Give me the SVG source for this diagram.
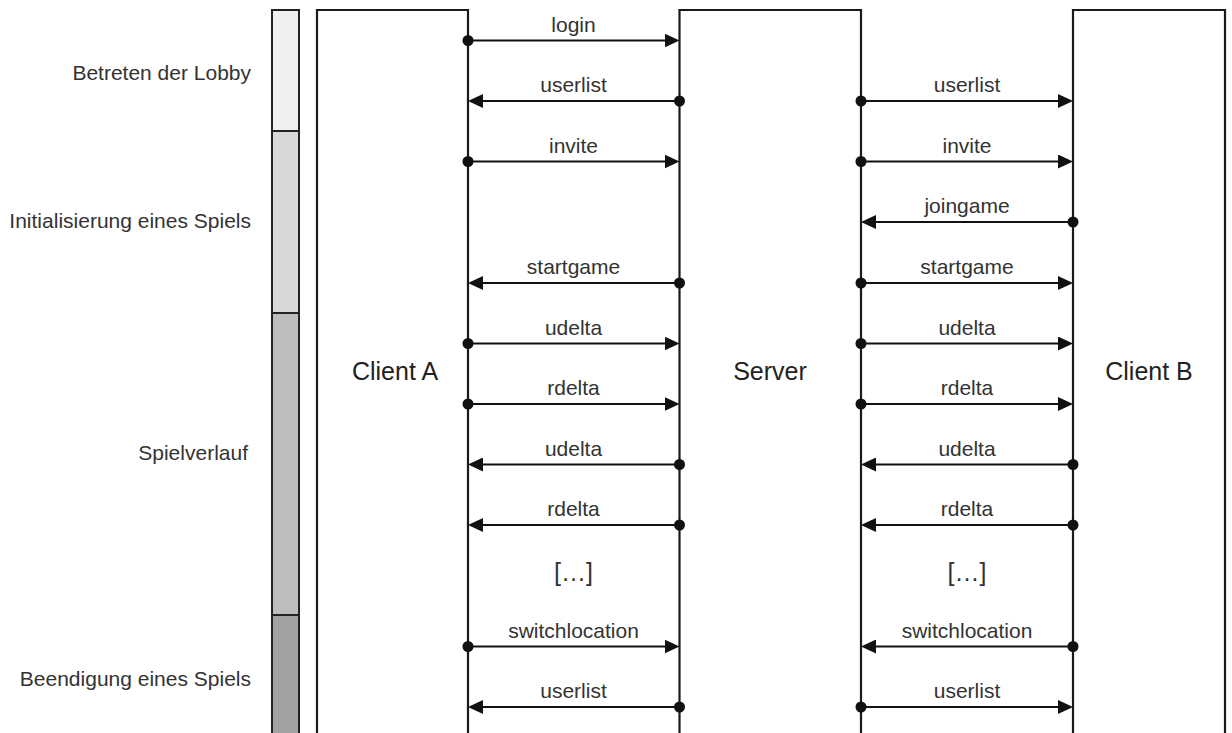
<svg xmlns="http://www.w3.org/2000/svg" width="1232" height="733" viewBox="0 0 1232 733">
<style>
  .phase { stroke: #222; stroke-width: 2; }
  .plabel { font-family: "Liberation Sans", Arial, sans-serif; font-size: 21px; fill: #333; text-anchor: end; }
  .box { fill: none; stroke: #1a1a1a; stroke-width: 2.2; }
  .name { font-family: "Liberation Sans", Arial, sans-serif; font-size: 25px; fill: #222; text-anchor: middle; }
  .msg { stroke: #111; stroke-width: 2.2; fill: none; marker-start: url(#dot); marker-end: url(#head); }
  .mlabel { font-family: "Liberation Sans", Arial, sans-serif; font-size: 21px; fill: #333; text-anchor: middle; }
  .dots { font-family: "Liberation Sans", Arial, sans-serif; font-size: 25px; fill: #333; text-anchor: middle; }
</style>
<defs>
  <marker id="head" markerUnits="userSpaceOnUse" markerWidth="15" markerHeight="14" refX="5" refY="7" orient="auto" viewBox="0 0 15 14">
    <path d="M0,0 L15,7 L0,14 Z" fill="#111"/>
  </marker>
  <marker id="dot" markerUnits="userSpaceOnUse" markerWidth="12" markerHeight="12" refX="6" refY="6" orient="auto" viewBox="0 0 12 12">
    <circle cx="6" cy="6" r="5.5" fill="#111"/>
  </marker>
</defs>
<rect width="1232" height="733" fill="#fff"/>

<g id="phases">
  <rect class="phase" x="272" y="10" width="27" height="121" fill="#f0f0f0"/>
  <rect class="phase" x="272" y="131" width="27" height="182" fill="#d8d8d8"/>
  <rect class="phase" x="272" y="313" width="27" height="302" fill="#bdbdbd"/>
  <rect class="phase" x="272" y="615" width="27" height="130" fill="#a2a2a2"/>
  <text class="plabel" x="251" y="80">Betreten der Lobby</text>
  <text class="plabel" x="251" y="228">Initialisierung eines Spiels</text>
  <text class="plabel" x="248" y="460">Spielverlauf</text>
  <text class="plabel" x="251" y="686">Beendigung eines Spiels</text>
</g>

<g id="clientA">
  <path class="box" d="M317,745 V10 H468 V745"/>
  <text class="name" x="395" y="380">Client A</text>
</g>
<g id="server">
  <path class="box" d="M679.5,745 V10 H861 V745"/>
  <text class="name" x="770" y="380">Server</text>
</g>
<g id="clientB">
  <path class="box" d="M1073,745 V10 H1225 V745"/>
  <text class="name" x="1149" y="380">Client B</text>
</g>

<g id="connectors">
  <!-- Client A <-> Server -->
  <line class="msg" x1="468" y1="40.5" x2="669.5" y2="40.5"/>
  <text class="mlabel" x="573.5" y="31.5">login</text>
  <line class="msg" x1="679.5" y1="101" x2="478" y2="101"/>
  <text class="mlabel" x="573.5" y="92">userlist</text>
  <line class="msg" x1="468" y1="161.5" x2="669.5" y2="161.5"/>
  <text class="mlabel" x="573.5" y="152.5">invite</text>
  <line class="msg" x1="679.5" y1="283" x2="478" y2="283"/>
  <text class="mlabel" x="573.5" y="274">startgame</text>
  <line class="msg" x1="468" y1="343.5" x2="669.5" y2="343.5"/>
  <text class="mlabel" x="573.5" y="334.5">udelta</text>
  <line class="msg" x1="468" y1="404" x2="669.5" y2="404"/>
  <text class="mlabel" x="573.5" y="395">rdelta</text>
  <line class="msg" x1="679.5" y1="464.5" x2="478" y2="464.5"/>
  <text class="mlabel" x="573.5" y="455.5">udelta</text>
  <line class="msg" x1="679.5" y1="525" x2="478" y2="525"/>
  <text class="mlabel" x="573.5" y="516">rdelta</text>
  <text class="dots" x="573.5" y="581">[…]</text>
  <line class="msg" x1="468" y1="646.5" x2="669.5" y2="646.5"/>
  <text class="mlabel" x="573.5" y="637.5">switchlocation</text>
  <line class="msg" x1="679.5" y1="707" x2="478" y2="707"/>
  <text class="mlabel" x="573.5" y="698">userlist</text>

  <!-- Server <-> Client B -->
  <line class="msg" x1="861" y1="101" x2="1063" y2="101"/>
  <text class="mlabel" x="967" y="92">userlist</text>
  <line class="msg" x1="861" y1="161.5" x2="1063" y2="161.5"/>
  <text class="mlabel" x="967" y="152.5">invite</text>
  <line class="msg" x1="1073" y1="222" x2="871" y2="222"/>
  <text class="mlabel" x="967" y="213">joingame</text>
  <line class="msg" x1="861" y1="283" x2="1063" y2="283"/>
  <text class="mlabel" x="967" y="274">startgame</text>
  <line class="msg" x1="861" y1="343.5" x2="1063" y2="343.5"/>
  <text class="mlabel" x="967" y="334.5">udelta</text>
  <line class="msg" x1="861" y1="404" x2="1063" y2="404"/>
  <text class="mlabel" x="967" y="395">rdelta</text>
  <line class="msg" x1="1073" y1="464.5" x2="871" y2="464.5"/>
  <text class="mlabel" x="967" y="455.5">udelta</text>
  <line class="msg" x1="1073" y1="525" x2="871" y2="525"/>
  <text class="mlabel" x="967" y="516">rdelta</text>
  <text class="dots" x="967" y="581">[…]</text>
  <line class="msg" x1="1073" y1="646.5" x2="871" y2="646.5"/>
  <text class="mlabel" x="967" y="637.5">switchlocation</text>
  <line class="msg" x1="861" y1="707" x2="1063" y2="707"/>
  <text class="mlabel" x="967" y="698">userlist</text>
</g>
</svg>
